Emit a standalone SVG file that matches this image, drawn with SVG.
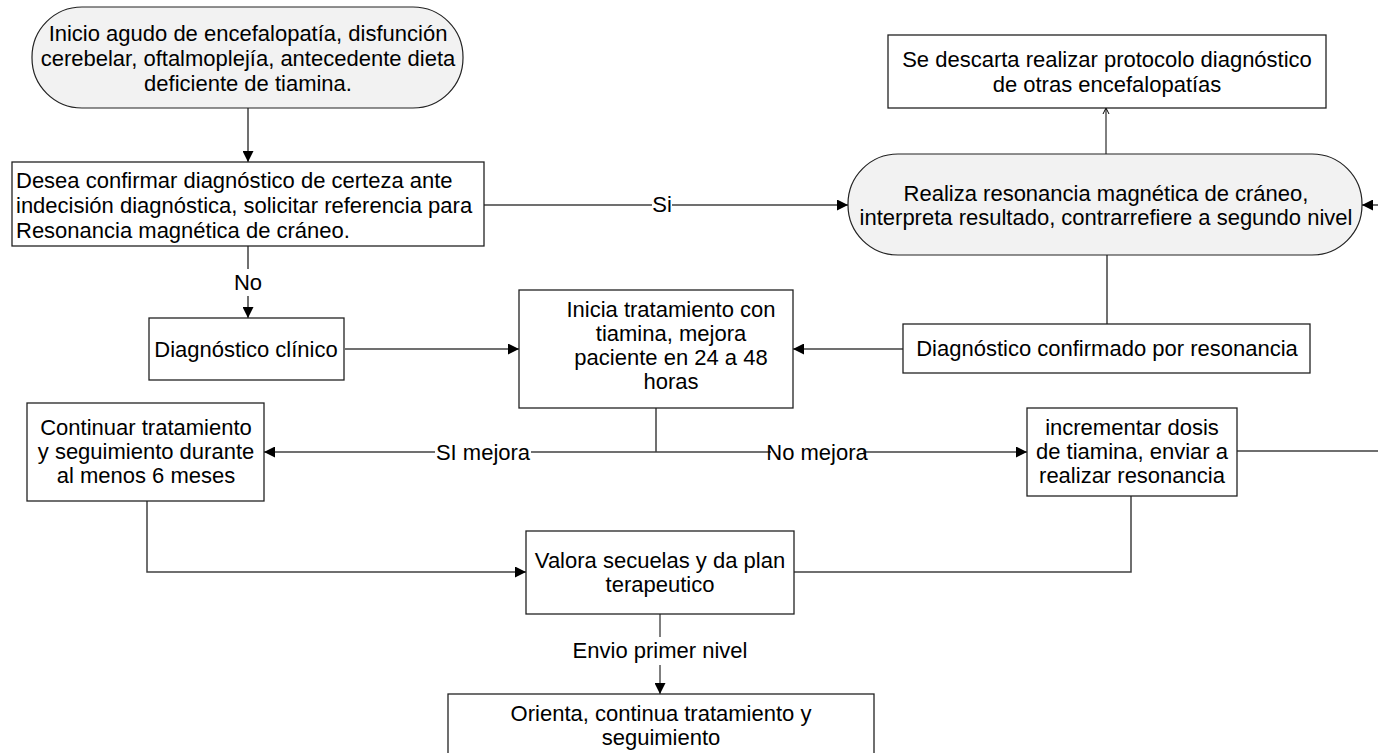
<svg xmlns="http://www.w3.org/2000/svg" width="1378" height="753" viewBox="0 0 1378 753">
<defs>
<style>
.box{fill:#ffffff;stroke:#222;stroke-width:1.3}
.term{fill:#f2f2f2;stroke:#222;stroke-width:1.2}
text{font-family:"Liberation Sans",Arial,sans-serif;font-size:22px;fill:#000}
.c{text-anchor:middle}
.ln{fill:none;stroke:#404040;stroke-width:1.5}
.thin{fill:none;stroke:#000;stroke-width:1}
.lbg{fill:#fff;stroke:none}
</style>
<marker id="ah" viewBox="0 0 10 10" refX="10" refY="5" markerWidth="11" markerHeight="11" markerUnits="userSpaceOnUse" orient="auto">
<path d="M0,0 L10,5 L0,10 z" fill="#000"/>
</marker>
<marker id="oa" viewBox="0 0 8 8" refX="7" refY="4" markerWidth="8" markerHeight="8" markerUnits="userSpaceOnUse" orient="auto">
<path d="M1,1 L7,4 L1,7" fill="none" stroke="#000" stroke-width="1"/>
</marker>
</defs>
<rect width="1378" height="753" fill="#fff"/>

<g id="connectors">
<path class="ln" d="M248,108 L248,162" marker-end="url(#ah)"/>
<path class="ln" d="M484,205 L848,205" marker-end="url(#ah)"/>
<path class="thin" d="M1106,154 L1106,108" marker-end="url(#oa)"/>
<path class="ln" d="M1107,255 L1107,324"/>
<path class="ln" d="M248,246 L248,318" marker-end="url(#ah)"/>
<path class="ln" d="M345,349 L519,349" marker-end="url(#ah)"/>
<path class="ln" d="M903,349 L793,349" marker-end="url(#ah)"/>
<path class="ln" d="M656,408 L656,452"/>
<path class="ln" d="M656,452 L264,452" marker-end="url(#ah)"/>
<path class="ln" d="M656,452 L1027,452" marker-end="url(#ah)"/>
<path class="ln" d="M1237,451 L1392,451 L1392,205 L1362,205" marker-end="url(#ah)"/>
<path class="ln" d="M147,501 L147,572 L526,572" marker-end="url(#ah)"/>
<path class="ln" d="M1131,496 L1131,572 L794,572"/>
<path class="thin" d="M660,614 L660,694" marker-end="url(#ah)"/>
<rect class="lbg" x="652" y="192" width="20" height="26"/>
<text class="c" x="662" y="212">Si</text>
<rect class="lbg" x="233" y="269" width="30" height="27"/>
<text class="c" x="248" y="290">No</text>
<rect class="lbg" x="435" y="440" width="96" height="25"/>
<text class="c" x="483" y="460">SI mejora</text>
<rect class="lbg" x="771" y="440" width="92" height="25"/>
<text class="c" x="817" y="460">No mejora</text>
<rect class="lbg" x="570" y="637" width="180" height="28"/>
<text class="c" x="660" y="658">Envio primer nivel</text>
</g>

<g id="inicio">
<rect class="term" x="32" y="7" width="431" height="101" rx="50" ry="50"/>
<text class="c" x="248" y="41">Inicio agudo de encefalopatía, disfunción</text>
<text class="c" x="248" y="66">cerebelar, oftalmoplejía, antecedente dieta</text>
<text class="c" x="248" y="91">deficiente de tiamina.</text>
</g>

<g id="desea">
<rect class="box" x="12" y="162" width="472" height="84"/>
<text x="16" y="188">Desea confirmar diagnóstico de certeza ante</text>
<text x="16" y="213">indecisión diagnóstica, solicitar referencia para</text>
<text x="16" y="238">Resonancia magnética de cráneo.</text>
</g>

<g id="descarta">
<rect class="box" x="888" y="35" width="438" height="73"/>
<text class="c" x="1107" y="67">Se descarta realizar protocolo diagnóstico</text>
<text class="c" x="1107" y="92">de otras encefalopatías</text>
</g>

<g id="realiza">
<rect class="term" x="848" y="154" width="514" height="101" rx="50" ry="50"/>
<text class="c" x="1106" y="201">Realiza resonancia magnética de cráneo,</text>
<text class="c" x="1106" y="225">interpreta resultado, contrarrefiere a segundo nivel</text>
</g>

<g id="clinico">
<rect class="box" x="149" y="318" width="195" height="62"/>
<text class="c" x="246" y="357">Diagnóstico clínico</text>
</g>

<g id="inicia">
<rect class="box" x="519" y="290" width="274" height="118"/>
<text class="c" x="671" y="317">Inicia tratamiento con</text>
<text class="c" x="671" y="341">tiamina, mejora</text>
<text class="c" x="671" y="365">paciente en 24 a 48</text>
<text class="c" x="671" y="389">horas</text>
</g>

<g id="confirmado">
<rect class="box" x="903" y="324" width="407" height="49"/>
<text class="c" x="1107" y="356">Diagnóstico confirmado por resonancia</text>
</g>

<g id="continuar">
<rect class="box" x="27" y="403" width="237" height="98"/>
<text class="c" x="146" y="435">Continuar tratamiento</text>
<text class="c" x="146" y="459">y seguimiento durante</text>
<text class="c" x="146" y="483">al menos 6 meses</text>
</g>

<g id="incrementar">
<rect class="box" x="1027" y="408" width="210" height="88"/>
<text class="c" x="1132" y="435">incrementar dosis</text>
<text class="c" x="1132" y="459">de tiamina, enviar a</text>
<text class="c" x="1132" y="483">realizar resonancia</text>
</g>

<g id="valora">
<rect class="box" x="526" y="531" width="268" height="83"/>
<text class="c" x="660" y="568">Valora secuelas y da plan</text>
<text class="c" x="660" y="592">terapeutico</text>
</g>

<g id="orienta">
<rect class="box" x="448" y="694" width="426" height="70"/>
<text class="c" x="661" y="721">Orienta, continua tratamiento y</text>
<text class="c" x="661" y="745">seguimiento</text>
</g>
</svg>
